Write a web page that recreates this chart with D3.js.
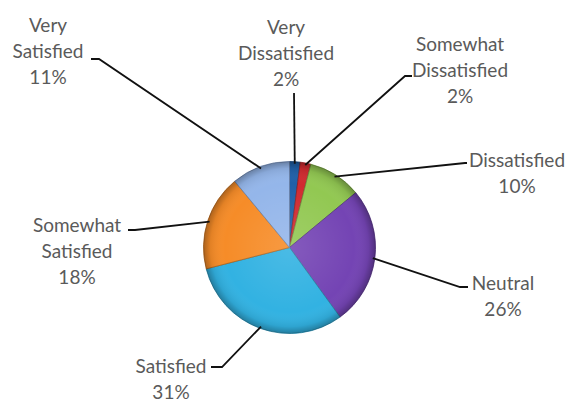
<!DOCTYPE html>
<html><head><meta charset="utf-8">
<script src="https://cdn.jsdelivr.net/npm/d3@7"></script>
<style>html,body{margin:0;padding:0;background:#fff;}svg{display:block;}</style>
</head><body>
<svg id="chart" width="572" height="400"></svg>
<script>
const categories = ["Very Dissatisfied","Somewhat Dissatisfied","Dissatisfied","Neutral","Satisfied","Somewhat Satisfied","Very Satisfied"];
const values = [2, 2, 10, 26, 31, 18, 11];
const labelLines = [["Very","Dissatisfied","2%"],["Somewhat","Dissatisfied","2%"],["Dissatisfied","10%"],["Neutral","26%"],["Satisfied","31%"],["Somewhat","Satisfied","18%"],["Very","Satisfied","11%"]];
const colors = ["#2060a8","#d02a30","#92c852","#7444b4","#32b2e2","#f68c28","#94b6ea"];

// layout (text block center x, first line y, leader elbow x,y, horizontal end x)
const layout = [
  {tx:286, ty:27, ex:294, ey:93,  hx:294},
  {tx:460, ty:44, ex:405, ey:76,  hx:412},
  {tx:517, ty:160, ex:465, ey:163, hx:467},
  {tx:503, ty:283, ex:460, ey:287, hx:468},
  {tx:171, ty:366, ex:222, ey:367, hx:211},
  {tx:77,  ty:225, ex:135, ey:230, hx:128},
  {tx:48,  ty:25,  ex:99,  ey:59,  hx:91}
];

const svg = d3.select("#chart");
const cx = 289.5, cy = 247.5, R = 86;
const defs = svg.append("defs");
const sh = defs.append("radialGradient").attr("id","shade")
  .attr("gradientUnits","userSpaceOnUse").attr("cx",cx).attr("cy",cy).attr("r",R);
sh.append("stop").attr("offset","0%").attr("stop-color","#fff").attr("stop-opacity",0.12);
sh.append("stop").attr("offset","75%").attr("stop-color","#fff").attr("stop-opacity",0);
sh.append("stop").attr("offset","92%").attr("stop-color","#000").attr("stop-opacity",0.08);
sh.append("stop").attr("offset","100%").attr("stop-color","#000").attr("stop-opacity",0.3);

const pie = d3.pie().sort(null).value(d=>d)(values);
const arc = d3.arc().innerRadius(0).outerRadius(R);
const g = svg.append("g").attr("transform",`translate(${cx},${cy})`);
g.selectAll("path.slice").data(pie).join("path").attr("class","slice")
  .attr("d",arc).attr("fill",(d,i)=>colors[i])
  .attr("stroke",(d,i)=>d3.color(colors[i]).darker(1)).attr("stroke-width",0.8);
g.append("circle").attr("r",R).attr("cx",0).attr("cy",0)
  .attr("fill","url(#shade)").attr("transform",`translate(${-cx},${-cy})`)
  .attr("cx",cx).attr("cy",cy);

// leader lines
pie.forEach((d,i)=>{
  const a = (d.startAngle+d.endAngle)/2;
  const px = cx + (R-2)*Math.sin(a), py = cy - (R-2)*Math.cos(a);
  const L = layout[i];
  svg.append("polyline")
    .attr("points",`${px},${py} ${L.ex},${L.ey} ${L.hx},${L.ey}`)
    .attr("fill","none").attr("stroke","#111").attr("stroke-width",1.8);
});

// labels
labelLines.forEach((lines,i)=>{
  const L = layout[i];
  const t = svg.append("text").attr("text-anchor","middle")
    .attr("font-family","Lato, 'Open Sans', sans-serif").attr("font-size",19)
    .attr("fill","#5a5a5a");
  lines.forEach((s,j)=>{
    t.append("tspan").attr("x",L.tx).attr("y",L.ty + j*26).attr("dy","0.35em").text(s);
  });
});
</script>
</body></html>
